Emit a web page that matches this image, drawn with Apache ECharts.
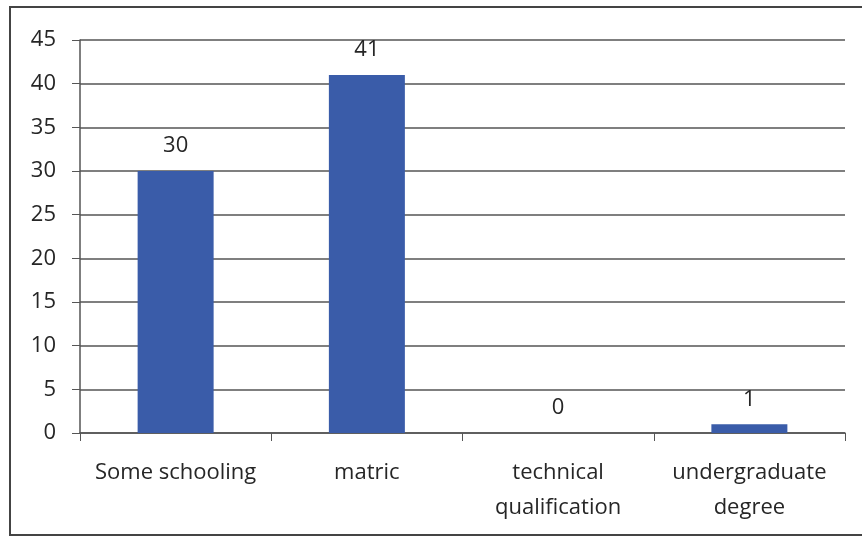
<!DOCTYPE html>
<html>
<head>
<meta charset="utf-8">
<script src="https://cdn.jsdelivr.net/npm/echarts@6/dist/echarts.min.js"></script>
<style>
  html, body { margin: 0; padding: 0; background: #fff; }
  #chart { width: 862px; height: 539px; }
</style>
</head>
<body>
<div id="chart"></div>
<script>
// education levels
const categories = ['Some schooling', 'matric', 'technical\nqualification', 'undergraduate\ndegree'];
const counts = [30, 41, 0, 1];

let chart = echarts.init(document.getElementById('chart'));

let textStyle = { color: '#262626', fontSize: 22, fontFamily: 'Open Sans' };

let options = {
    animation: false,
    grid: { left: 80, right: 17, top: 40, bottom: 106 },
    graphic: [{
        type: 'rect',
        shape: { x: 10, y: 7, width: 860, height: 528 },
        style: { fill: 'none', stroke: '#444', lineWidth: 2 }
    }],
    xAxis: {
        type: 'category',
        data: categories,
        axisLine: { lineStyle: { color: '#555', width: 1.5 } },
        axisTick: { show: true, length: 8, lineStyle: { color: '#555' } },
        axisLabel: Object.assign({ margin: 22, lineHeight: 35, interval: 0 }, textStyle)
    },
    yAxis: {
        type: 'value',
        min: 0, max: 45, interval: 5,
        axisLine: { show: true, lineStyle: { color: '#555', width: 1.5 } },
        axisTick: { show: true, length: 8, lineStyle: { color: '#555' } },
        axisLabel: Object.assign({ margin: 24 }, textStyle),
        splitLine: { lineStyle: { color: '#555', width: 1.5 } }
    },
    series: [{
        type: 'bar',
        data: counts,
        barWidth: 76,
        itemStyle: { color: '#3a5ca9' },
        label: Object.assign({ show: true, position: 'top', distance: 14 }, textStyle)
    }]
};

chart.setOption(options);
</script>
</body>
</html>
